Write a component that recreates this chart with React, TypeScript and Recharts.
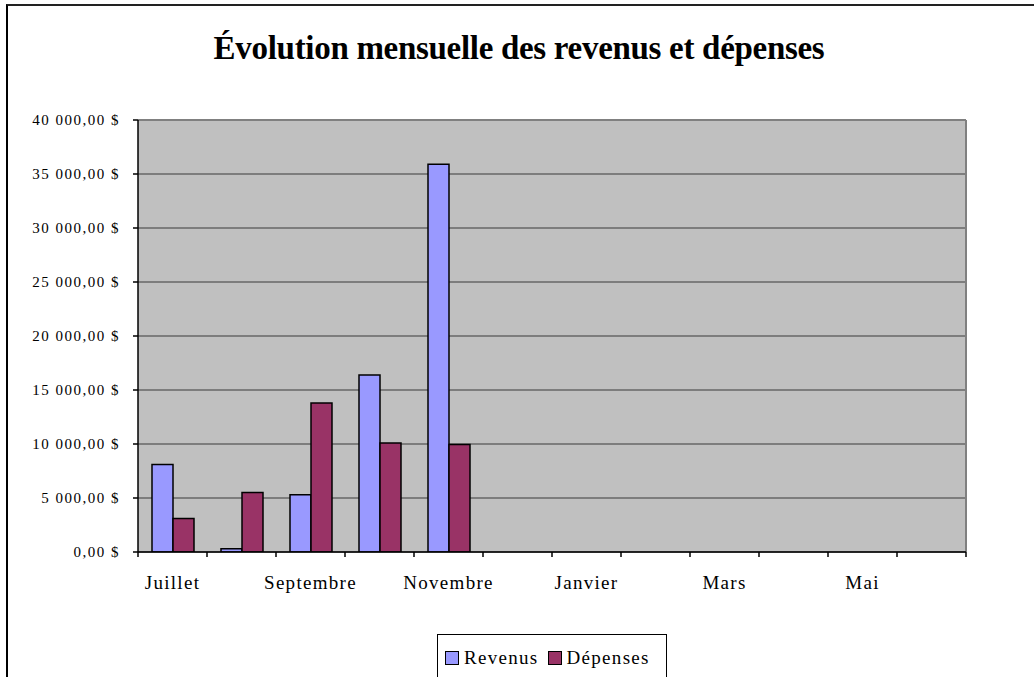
import React from "react";
import {
  BarChart,
  Bar,
  XAxis,
  YAxis,
  CartesianGrid,
  ReferenceLine,
  Legend,
} from "recharts";

const months = [
  "Juillet",
  "Août",
  "Septembre",
  "Octobre",
  "Novembre",
  "Décembre",
  "Janvier",
  "Février",
  "Mars",
  "Avril",
  "Mai",
  "Juin",
];
const revenus = [8100, 300, 5300, 16400, 35900, 0, 0, 0, 0, 0, 0, 0];
const depenses = [3100, 5500, 13800, 10100, 9950, 0, 0, 0, 0, 0, 0, 0];
const yTicks = [0, 5000, 10000, 15000, 20000, 25000, 30000, 35000, 40000];

const data = months.map((m, i) => ({
  month: m,
  Revenus: revenus[i],
  "Dépenses": depenses[i],
}));

const FONT = "Liberation Serif, Times New Roman, Tinos, DejaVu Serif, serif";
const X_TICK_MARGIN = 24;
const X_TICK_LEN = 5;

const fmt = (v: number) => {
  const s = Math.round(v).toString().replace(/\B(?=(\d{3})+(?!\d))/g, " ");
  return `${s},00 $`;
};

const MonthTick = (props: any) => {
  const { x, y, payload, index, visibleTicksCount } = props;
  const half = payload?.offset ?? 0;
  const axisY = y - X_TICK_MARGIN;
  const isLast = index === (visibleTicksCount ?? 12) - 1;
  return (
    <g>
      <line
        x1={x - half}
        x2={x - half}
        y1={axisY}
        y2={axisY + X_TICK_LEN}
        stroke="#000"
        strokeWidth={1.5}
      />
      {isLast && (
        <line
          x1={x + half}
          x2={x + half}
          y1={axisY}
          y2={axisY + X_TICK_LEN}
          stroke="#000"
          strokeWidth={1.5}
        />
      )}
      {index % 2 === 0 && (
        <text
          x={x}
          y={y}
          dy="0.71em"
          textAnchor="middle"
          fill="#000"
          fontFamily={FONT}
          fontSize={19}
          letterSpacing={1.3}
        >
          {payload.value}
        </text>
      )}
    </g>
  );
};

const LegendBox = () => (
  <div
    style={{
      width: 230,
      height: 50,
      border: "1px solid #000",
      background: "#fff",
      boxSizing: "border-box",
      display: "flex",
      alignItems: "flex-start",
      paddingTop: 12,
      paddingLeft: 7,
      fontFamily: FONT,
      fontSize: 19,
      letterSpacing: 1.3,
      color: "#000",
    }}
  >
    <span
      style={{
        display: "inline-block",
        width: 12,
        height: 12,
        background: "#9999FF",
        border: "1.5px solid #000",
        marginTop: 4,
        marginRight: 5,
      }}
    />
    <span style={{ lineHeight: "22px" }}>Revenus</span>
    <span
      style={{
        display: "inline-block",
        width: 12,
        height: 12,
        background: "#993366",
        border: "1.5px solid #000",
        marginTop: 4,
        marginLeft: 9,
        marginRight: 5,
      }}
    />
    <span style={{ lineHeight: "22px" }}>Dépenses</span>
  </div>
);

export default function App() {
  return (
    <div
      style={{
        position: "absolute",
        left: 0,
        top: 0,
        width: 1034,
        height: 677,
        overflow: "hidden",
        background: "#fff",
        fontFamily: FONT,
      }}
    >
      <div
        style={{
          position: "absolute",
          left: 6,
          top: 4,
          width: 2000,
          height: 2000,
          borderTop: "2px solid #222",
          borderLeft: "2px solid #000",
        }}
      />
      <div
        style={{
          position: "absolute",
          left: 2,
          top: 32,
          width: 1034,
          textAlign: "center",
          fontFamily: FONT,
          fontWeight: "bold",
          fontSize: 33,
          lineHeight: "33px",
          letterSpacing: -0.3,
          color: "#000",
        }}
      >
        Évolution mensuelle des revenus et dépenses
      </div>
      <div style={{ position: "absolute", left: 0, top: 0 }}>
        <BarChart
          width={1034}
          height={677}
          data={data}
          margin={{ top: 120, right: 68, left: 8, bottom: 95 }}
          barCategoryGap={14}
          barGap={0}
          style={{ fontFamily: FONT }}
        >
          <CartesianGrid
            vertical={false}
            fill="#C0C0C0"
            fillOpacity={1}
            stroke="#3a3a3a"
            strokeWidth={1}
          />
          <CartesianGrid
            horizontal={false}
            fill="none"
            stroke="#808080"
            strokeWidth={2}
            verticalCoordinatesGenerator={({ offset }: any) => [
              offset.left + offset.width,
            ]}
          />
          <XAxis
            dataKey="month"
            height={30}
            interval={0}
            tickLine={false}
            axisLine={{ stroke: "#000", strokeWidth: 1.5 }}
            tickSize={0}
            tickMargin={X_TICK_MARGIN}
            tick={MonthTick}
          />
          <YAxis
            domain={[0, 40000]}
            ticks={yTicks}
            width={130}
            allowDataOverflow
            tickFormatter={fmt}
            tickSize={5}
            tickMargin={13}
            tickLine={{ stroke: "#000", strokeWidth: 1.5 }}
            axisLine={{ stroke: "#000", strokeWidth: 1.5 }}
            tick={{
              fill: "#000",
              fontFamily: FONT,
              fontSize: 15,
              letterSpacing: 1.5,
            }}
          />
          <ReferenceLine y={40000} stroke="#808080" strokeWidth={2} />
          <Bar
            dataKey="Revenus"
            fill="#9999FF"
            stroke="#000"
            strokeWidth={1.5}
            isAnimationActive={false}
          />
          <Bar
            dataKey="Dépenses"
            fill="#993366"
            stroke="#000"
            strokeWidth={1.5}
            isAnimationActive={false}
          />
          <Legend
            layout="horizontal"
            verticalAlign="middle"
            align="center"
            content={LegendBox}
            wrapperStyle={{ left: 437, top: 634, width: 232, height: 50 }}
          />
        </BarChart>
      </div>
    </div>
  );
}
